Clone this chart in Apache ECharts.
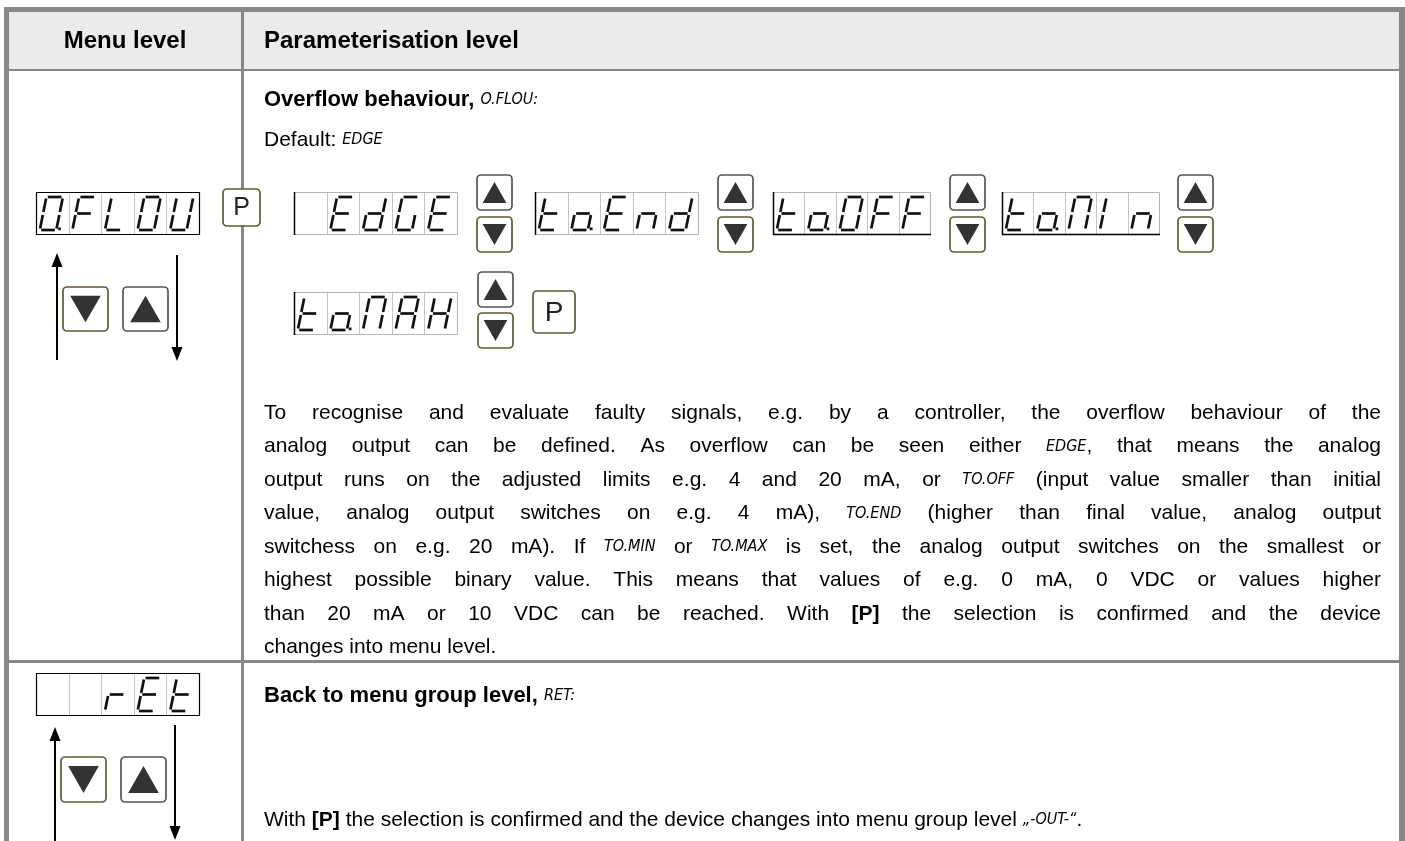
<!DOCTYPE html>
<html><head><meta charset="utf-8">
<script src="https://cdn.jsdelivr.net/npm/echarts@6/dist/echarts.min.js"></script>
<style>html,body{margin:0;padding:0;background:#fff}#c{width:1405px;height:841px}</style>
</head><body><div id="c"></div>
<script>
// ---- content (text & display codes) ----
const headerLabels = ['Menu level', 'Parameterisation level'];
const menuCodes = ['O.FLOU', '  rEt'];
const optionCodesRow1 = [' EdGE', 'to.End', 'to.OFF', 'to.MIn'];
const optionCodesRow2 = ['to.MAH'];
const row1Title = '{t:Overflow} {t:behaviour,} {s:O.FLOU:}';
const row1Default = 'Default: {s:EDGE}';
const row1Paragraph = [
  'To recognise and evaluate faulty signals, e.g. by a controller, the overflow behaviour of the',
  'analog output can be defined. As overflow can be seen either {s:EDGE}, that means the analog',
  'output runs on the adjusted limits e.g. 4 and 20 mA, or {s:TO.OFF} (input value smaller than initial',
  'value, analog output switches on e.g. 4 mA), {s:TO.END} (higher than final value, analog output',
  'switchess on e.g. 20 mA). If {s:TO.MIN} or {s:TO.MAX} is set, the analog output switches on the smallest or',
  'highest possible binary value. This means that values of e.g. 0 mA, 0 VDC or values higher',
  'than 20 mA or 10 VDC can be reached. With {b:[P]} the selection is confirmed and the device',
  'changes into menu level.'
];
const row2Title = '{t:Back} {t:to} {t:menu} {t:group} {t:level,} {s:RET:}';
const row2Text = 'With {b:[P]} the selection is confirmed and the device changes into menu group level {s:„-OUT-“}.';

// ---- styles ----
const FAM = '"Liberation Sans", Arial, sans-serif';
const FS = 21;
const FONTS = {
  n: FS + 'px ' + FAM,
  b: 'bold ' + FS + 'px ' + FAM,
  t: 'bold 22px ' + FAM,
  s: 'italic 16px "DejaVu Sans Condensed", sans-serif'
};
const GRID = '#878787';
const els = [];
const mctx = document.createElement('canvas').getContext('2d');
function measure(str, font) { mctx.font = font; return mctx.measureText(str).width; }

function txt(x, y, str, font, align, fill) {
  els.push({type: 'text', x: x, y: y, silent: true,
    style: {text: str, font: font, fill: fill || '#000', textAlign: align || 'left', textVerticalAlign: 'middle'}});
}
function rect(x, y, w, h, fill, stroke, lw, r) {
  els.push({type: 'rect', shape: {x: x, y: y, width: w, height: h, r: r || 0}, silent: true,
    style: {fill: fill || 'none', stroke: stroke || 'none', lineWidth: lw || 0}});
}
function line(x1, y1, x2, y2, stroke, lw) {
  els.push({type: 'line', shape: {x1: x1, y1: y1, x2: x2, y2: y2}, silent: true,
    style: {stroke: stroke, lineWidth: lw, lineCap: 'butt'}});
}
function poly(pts, fill) {
  els.push({type: 'polygon', shape: {points: pts}, silent: true, style: {fill: fill}});
}

function parseWords(s) {
  return s.split(' ').map(function (w) {
    const pieces = [];
    const re = /\{([bst]):([^}]*)\}|([^{]+)/g;
    let m;
    while ((m = re.exec(w))) {
      if (m[1]) pieces.push({k: m[1], t: m[2]}); else pieces.push({k: 'n', t: m[3]});
    }
    let width = 0;
    pieces.forEach(function (p) { p.w = measure(p.t, FONTS[p.k]); width += p.w; });
    return {pieces: pieces, w: width, k: pieces[0].k};
  });
}
function drawWords(words, x0, y, gap) {
  let x = x0;
  words.forEach(function (wd) {
    wd.pieces.forEach(function (p) { txt(x, y, p.t, FONTS[p.k]); x += p.w; });
    x += (typeof gap === 'function') ? gap(wd) : gap;
  });
}
function textLine(s, x0, y) {
  const words = parseWords(s);
  drawWords(words, x0, y, function (wd) { return measure(' ', FONTS[wd.k === 's' ? 'n' : wd.k]); });
}
function justifiedLine(s, x0, x1, y) {
  const words = parseWords(s);
  const sum = words.reduce(function (a, w) { return a + w.w; }, 0);
  const gap = (x1 - x0 - sum) / (words.length - 1);
  drawWords(words, x0, y, gap);
}

// ---- seven segment displays ----
const SEG = {' ': '', 'O': 'abcdef', 'F': 'aefg', 'L': 'def', 'U': 'bcdef', 'E': 'adefg', 'd': 'bcdeg',
  'G': 'acdef', 't': 'defg', 'o': 'cdeg', 'n': 'ceg', 'r': 'eg', 'A': 'abcefg', 'H': 'bcefg',
  'M': 'abcef', 'I': 'ef'};
function parseCode(code) {
  const cells = [];
  for (const ch of code) {
    if (ch === '.') { cells[cells.length - 1].dp = true; } else cells.push({ch: ch, dp: false});
  }
  return cells;
}
function display(x, y, w, h, code, kind) {
  const cells = parseCode(code);
  const cw = w / 5;
  rect(x, y, w, h, '#fff');
  for (let i = 1; i < 5; i++) line(Math.round(x + i * cw) + 0.5, y, Math.round(x + i * cw) + 0.5, y + h, '#c4c4c4', 1);
  if (kind === 'menu') {
    rect(x + 0.5, y + 0.5, w, h, 'none', '#000', 1.2);
  } else {
    rect(x + 0.5, y + 0.5, w, h, 'none', '#b4b4b4', 1);
    line(x + 0.5, y, x + 0.5, y + h + 1, '#000', 1.5);
    if (kind === 'optB') line(x, y + h + 0.5, x + w + 1, y + h + 0.5, '#000', 1.5);
  }
  const gw = 16.5, gh = h - 9, slant = 0.2, gap = 1.4, sw = 2.7;
  cells.forEach(function (c, i) {
    const gx0 = x + i * cw + 3.8, top = y + 5;
    const P = function (px, py) { return [gx0 + px + slant * (gh - py), top + py]; };
    const S = {
      a: [gap, 0, gw - gap, 0], b: [gw, gap, gw, gh / 2 - gap], c: [gw, gh / 2 + gap, gw, gh - gap],
      d: [gap, gh, gw - gap, gh], e: [0, gh / 2 + gap, 0, gh - gap], f: [0, gap, 0, gh / 2 - gap],
      g: [gap, gh / 2, gw - gap, gh / 2]
    };
    (SEG[c.ch] || '').split('').forEach(function (k) {
      const s = S[k];
      const p1 = P(s[0], s[1]), p2 = P(s[2], s[3]);
      line(p1[0], p1[1], p2[0], p2[1], '#111', sw);
    });
    if (c.dp) {
      const p = P(gw + 3.2, gh);
      rect(p[0] - 1.3, p[1] - 2.5, 2.7, 2.7, '#111');
    }
  });
}
function button(x, y, w, h, dir, border) {
  rect(x, y, w, h, '#fff', border, 1.7, 4);
  const cx = x + w / 2, cy = y + h / 2, tw = w * 0.68, th = h * 0.6;
  if (dir === 'up') poly([[cx, cy - th / 2], [cx - tw / 2, cy + th / 2], [cx + tw / 2, cy + th / 2]], '#333');
  else poly([[cx, cy + th / 2], [cx - tw / 2, cy - th / 2], [cx + tw / 2, cy - th / 2]], '#333');
}
function pButton(x, y, w, h, fs) {
  rect(x, y, w, h, '#fff', '#5f5b38', 1.7, 4);
  txt(x + w / 2, y + h / 2 + 1, 'P', fs + 'px ' + FAM, 'center', '#222');
}
function arrow(x, yFrom, yTo) {
  const dir = yTo < yFrom ? -1 : 1;
  line(x, yFrom, x, yTo - dir * 12, '#000', 2);
  poly([[x, yTo], [x - 5.5, yTo - dir * 14], [x + 5.5, yTo - dir * 14]], '#000');
}

// ---- table frame ----
rect(9, 12, 1390, 58, '#ebebeb');
rect(4, 7, 1401, 5, GRID);
rect(4, 7, 5, 834, GRID);
rect(1399, 7, 6, 834, GRID);
rect(9, 69, 1390, 2, GRID);
rect(241, 12, 3, 829, GRID);
rect(9, 660, 1390, 3, GRID);

// header
txt(125, 41, headerLabels[0], 'bold 24px ' + FAM, 'center');
txt(264, 41, headerLabels[1], 'bold 24px ' + FAM, 'left');

// ---- row 1: menu column ----
display(36, 192, 163, 42, menuCodes[0], 'menu');
pButton(223, 189, 37, 37, 25);
arrow(57, 360, 253);
arrow(177, 255, 361);
button(63, 287, 45, 44, 'down', '#5f5b38');
button(123, 287, 45, 44, 'up', '#555');

// ---- row 1: parameter column ----
textLine(row1Title, 264, 100);
textLine(row1Default, 264, 140);
const row1X = [294, 535, 773, 1002];
const row1W = [163, 163, 157, 157];
const row1Kinds = ['opt', 'opt', 'optB', 'optB'];
const row1BtnX = [477, 718, 950, 1178];
optionCodesRow1.forEach(function (code, i) {
  display(row1X[i], 192, row1W[i], 42, code, row1Kinds[i]);
  button(row1BtnX[i], 175, 35, 35, 'up', '#555');
  button(row1BtnX[i], 217, 35, 35, 'down', '#5f5b38');
});
optionCodesRow2.forEach(function (code) {
  display(294, 292, 163, 42, code, 'opt');
  button(478, 272, 35, 35, 'up', '#555');
  button(478, 313, 35, 35, 'down', '#5f5b38');
});
pButton(533, 291, 42, 42, 28);

row1Paragraph.forEach(function (s, i) {
  const y = 413 + i * 33.5;
  if (i < row1Paragraph.length - 1) justifiedLine(s, 264, 1381, y);
  else textLine(s, 264, y);
});

// ---- row 2 ----
display(36, 673, 163, 42, menuCodes[1], 'menu');
arrow(55, 841, 727);
arrow(175, 725, 840);
button(61, 757, 45, 45, 'down', '#5f5b38');
button(121, 757, 45, 45, 'up', '#555');
textLine(row2Title, 264, 696);
textLine(row2Text, 264, 820);

const chart = echarts.init(document.getElementById('c'), null, {renderer: 'canvas', width: 1405, height: 841});
chart.setOption({animation: false, graphic: {elements: els}});
</script>
</body></html>
